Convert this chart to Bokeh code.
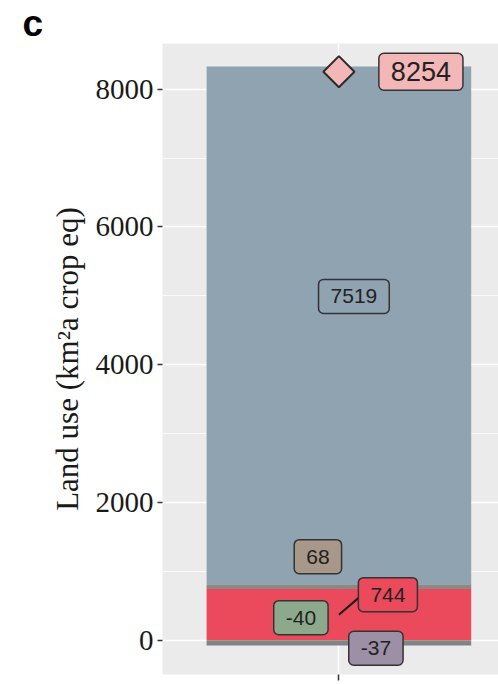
import math
from bokeh.plotting import figure
from bokeh.models import Range1d, FixedTicker, SingleIntervalTicker, Label
from bokeh.embed import file_html
from bokeh.resources import INLINE

# ---- data ----
category = [1]
segment_names = ["744", "68", "7519"]          # positive stack (bottom -> top)
pos_values = [744, 68, 7519]
neg_values = [-40, -37]                          # negative stack (top -> bottom)
net_total = 8254
y_ticks = [0, 2000, 4000, 6000, 8000]

pos_fill = ["#EA4A5B", "#8E8885", "#8FA3B1"]
pos_label_fill = ["#EA4A5B", "#A89889", "#8FA3B1"]
neg_fill = ["#7F8A7F", "#857F8A"]
neg_label_fill = ["#8CA98C", "#9C8FA6"]

# ---- figure geometry ----
W, H = 498, 684
LB, RB, TB, BB = 162, 0, 0, 10
px_per_y = 0.068772           # vertical scale (px per unit)
y0 = -497
y1 = y0 + 630 / px_per_y       # frame is ~630 px tall below the tag title
x0 = 0.4
px_per_x = 294.0
FW = W - LB - RB
x1 = x0 + FW / px_per_x

p = figure(width=W, height=H, output_backend="svg", toolbar_location=None,
           x_range=Range1d(x0, x1), y_range=Range1d(y0, y1),
           min_border_left=LB, min_border_right=RB, min_border_top=TB, min_border_bottom=BB)
p.background_fill_color = "#EBEBEB"
p.border_fill_color = "white"
p.outline_line_color = None

# panel tag as title
p.title.text = "c"
p.title.align = "left"
p.title.offset = -140
p.title.standoff = 0
p.title.text_font = "Liberation Sans"
p.title.text_font_style = "bold"
p.title.text_font_size = "37px"
p.title.text_color = "black"

# grid
p.xgrid.grid_line_color = "white"
p.xgrid.grid_line_width = 1.5
p.ygrid.grid_line_color = "white"
p.ygrid.grid_line_width = 1.5
p.ygrid.minor_grid_line_color = "white"
p.ygrid.minor_grid_line_width = 0.8

# axes
p.yaxis.ticker = SingleIntervalTicker(interval=2000, num_minor_ticks=2)
p.yaxis.axis_line_color = None
p.yaxis.major_tick_in = 0
p.yaxis.major_tick_out = 5
p.yaxis.major_tick_line_color = "#333333"
p.yaxis.major_tick_line_width = 1.5
p.yaxis.minor_tick_in = 0
p.yaxis.minor_tick_out = 0
p.yaxis.major_label_text_font = "Liberation Serif"
p.yaxis.major_label_text_font_size = "29px"
p.yaxis.major_label_text_color = "#1a1a1a"
p.yaxis.major_label_standoff = 4
p.yaxis.axis_label = "Land use (km²a crop eq)"
p.yaxis.axis_label_text_font = "Liberation Serif"
p.yaxis.axis_label_text_font_size = "31px"
p.yaxis.axis_label_text_font_style = "normal"
p.yaxis.axis_label_text_color = "#1a1a1a"
p.yaxis.axis_label_standoff = 8

p.xaxis.ticker = FixedTicker(ticks=category)
p.xaxis.major_label_overrides = {1: ""}
p.xaxis.major_label_text_font_size = "1px"
p.xaxis.major_label_standoff = 0
p.xaxis.axis_line_color = None
p.xaxis.major_tick_in = 0
p.xaxis.major_tick_out = 6
p.xaxis.major_tick_line_color = "#333333"
p.xaxis.major_tick_line_width = 1.5
p.xaxis.minor_tick_out = 0

# ---- stacked bars ----
pos_bottom, pos_top, acc = [], [], 0
for v in pos_values:
    pos_bottom.append(acc); acc += v; pos_top.append(acc)
neg_top, neg_bottom, acc = [], [], 0
for v in neg_values:
    neg_top.append(acc); acc += v; neg_bottom.append(acc)

p.vbar(x=category * len(pos_values), bottom=pos_bottom, top=pos_top, width=0.9,
       fill_color=pos_fill, line_color=None)
p.vbar(x=category * len(neg_values), bottom=neg_bottom, top=neg_top, width=0.9,
       fill_color=neg_fill, line_color=None)

# net total diamond
p.scatter(x=category, y=[net_total], marker="square", angle=math.pi / 4, size=22,
          fill_color="#F4B7B7", line_color="#2b2b2b", line_width=2)

# ---- labels ----
def add_label(text, yv, dx, dy, fill, size="21px", pad=(12, 10)):
    lab = Label(x=category[0], y=yv, x_offset=dx, y_offset=dy, text=text,
                text_align="center", text_baseline="middle",
                text_font="Liberation Sans", text_font_size=size, text_color="#222222",
                background_fill_color=fill, border_line_color="#333333", border_line_width=1.5,
                border_radius=5, padding=dict(left=pad[0], right=pad[0], top=pad[1], bottom=pad[1]))
    p.add_layout(lab)

pos_mid = [(b + t) / 2 for b, t in zip(pos_bottom, pos_top)]
neg_mid = [(b + t) / 2 for b, t in zip(neg_bottom, neg_top)]

offsets_pos = [(49, 20), (-21, 30), (15, 29)]
offsets_neg = [(-38, 24), (37, -4)]

# connector for 744 label (pixel offset converted with the frame scale)
seg_dx, seg_dy = 20, 17
p.segment(x0=[category[0]], y0=[pos_mid[0]],
          x1=[category[0] + seg_dx / px_per_x], y1=[pos_mid[0] + seg_dy / px_per_y],
          line_color="#1a1a1a", line_width=2)

for name, v, m, (dx, dy), f in zip(segment_names, pos_values, pos_mid, offsets_pos, pos_label_fill):
    add_label(str(v), m, dx, dy, f)
for v, m, (dx, dy), f in zip(neg_values, neg_mid, offsets_neg, neg_label_fill):
    add_label(str(v), m, dx, dy, f)

add_label(str(net_total), net_total, 82, 0, "#F4B7B7", size="27px", pad=(12, 9))

open("out.html", "w").write(file_html(p, INLINE))
